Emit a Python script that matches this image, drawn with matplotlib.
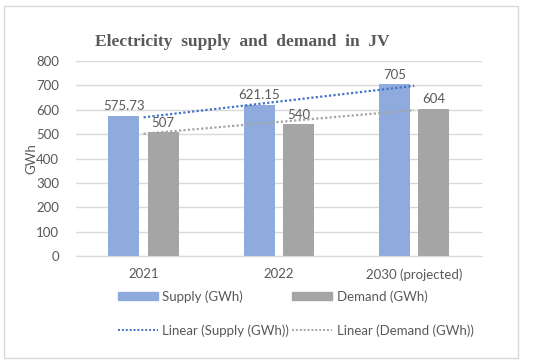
import numpy as np
import matplotlib.pyplot as plt
from matplotlib.patches import Rectangle
from matplotlib.lines import Line2D

# chart values
years = ["2021", "2022", "2030 (projected)"]
supply = [575.73, 621.15, 705]
demand = [507, 540, 604]
supply_labels = ["575.73", "621.15", "705"]
demand_labels = ["507", "540", "604"]

supply_color = "#8FAADC"
demand_color = "#A5A5A5"
text_color = "#595959"
font = ["Lato", "DejaVu Sans"]

fig = plt.figure(figsize=(5.5, 3.64), dpi=100)
ax = fig.add_axes([0.138, 0.297, 0.738, 0.535])

x = np.arange(len(years))
w = 0.23
off = 0.145
ax.bar(x - off, supply, w, color=supply_color, zorder=2)
ax.bar(x + off, demand, w, color=demand_color, zorder=2)

for xi, v, s in zip(x, supply, supply_labels):
    ax.text(xi - off, v + 14, s, ha="center", va="bottom", fontsize=9.5,
            color=text_color, family=font)
for xi, v, s in zip(x, demand, demand_labels):
    ax.text(xi + off, v + 14, s, ha="center", va="bottom", fontsize=9.5,
            color=text_color, family=font)

# linear trend lines (like Excel)
ps = np.polyfit(x, supply, 1)
pd_ = np.polyfit(x, demand, 1)
ax.plot(x, np.polyval(ps, x), color="#4472C4", ls=(0, (1, 1)), lw=1.6, zorder=3)
ax.plot(x, np.polyval(pd_, x), color="#A5A5A5", ls=(0, (1, 1)), lw=1.6, zorder=3)

ax.set_xlim(-0.5, 2.5)
ax.set_ylim(0, 800)
ax.set_yticks(range(0, 801, 100))
ax.set_xticks(x)
ax.set_xticklabels(years)
ax.grid(axis="y", color="#D9D9D9", lw=1, zorder=0)
ax.set_axisbelow(True)
for s in ["top", "right", "left"]:
    ax.spines[s].set_visible(False)
ax.spines["bottom"].set_color("#D9D9D9")
ax.tick_params(axis="y", length=0, labelsize=9.5, colors=text_color, pad=12)
ax.tick_params(axis="x", length=0, labelsize=9.5, colors=text_color, pad=9)
for lab in ax.get_xticklabels() + ax.get_yticklabels():
    lab.set_family(font)
ax.set_ylabel("GWh", fontsize=9.5, color=text_color, family=font, labelpad=-1)

fig.text(0.44, 0.885, "Electricity  supply  and  demand  in  JV", ha="center",
         va="center", fontsize=12.5, fontweight="bold", color=text_color,
         family="Liberation Serif")

handles = [
    Rectangle((0, 0), 1, 1, color=supply_color),
    Line2D([], [], color="#4472C4", ls=(0, (1, 1)), lw=1.4),
    Rectangle((0, 0), 1, 1, color=demand_color),
    Line2D([], [], color="#A5A5A5", ls=(0, (1, 1)), lw=1.4),
]
labels = ["Supply (GWh)", "Linear (Supply (GWh))",
          "Demand (GWh)", "Linear (Demand (GWh))"]
fig.legend(handles, labels, ncol=2, loc="upper left",
           bbox_to_anchor=(0.193, 0.235), frameon=False, handlelength=3.0,
           handleheight=0.6, handletextpad=0.35, columnspacing=0.25,
           labelspacing=1.6, prop={"family": font, "size": 9.5},
           labelcolor=text_color)

fig.patches.append(Rectangle((0.008, 0.016), 0.933, 0.967, transform=fig.transFigure,
                             fill=False, edgecolor="#D9D9D9", lw=1))

fig.savefig("out.png", dpi=100)
